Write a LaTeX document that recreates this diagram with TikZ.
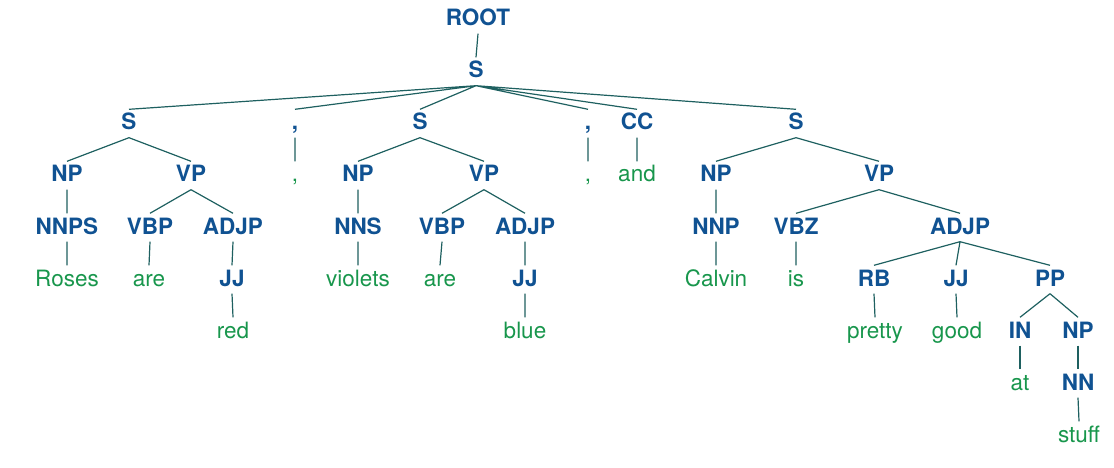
\documentclass[tikz,border=0pt]{standalone}
\usepackage{fontspec}
\setmainfont{TeX Gyre Heros}
\definecolor{tagblue}{RGB}{16,82,146}
\definecolor{wordgreen}{RGB}{24,150,76}
\definecolor{edgeteal}{RGB}{30,96,96}

\begin{document}
\begin{tikzpicture}[x=1pt,y=-1pt,
  tag/.style={anchor=base, inner sep=0pt, text height=20.5pt, text depth=7.5pt,
    text=tagblue, font=\fontsize{22.5}{26}\selectfont\bfseries},
  word/.style={tag, text=wordgreen, font=\fontsize{22.5}{26}\selectfont},
  edge/.style={draw=edgeteal, line width=1.2pt}]
\useasboundingbox (0,0) rectangle (1114,468);

\node[tag] (root) at (478,26) {ROOT};
\node[tag] (s) at (476,78) {S};

\node[tag] (sA) at (129,130) {S};
\node[tag] (cmA) at (295,130) {,};
\node[tag] (sB) at (420,130) {S};
\node[tag] (cmB) at (588,130) {,};
\node[tag] (cc) at (637,130) {CC};
\node[tag] (sC) at (796,130) {S};

\node[tag] (npA) at (67,182) {NP};
\node[tag] (vpA) at (191,182) {VP};
\node[word] (wcmA) at (295,182) {,};
\node[tag] (npB) at (358,182) {NP};
\node[tag] (vpB) at (484,182) {VP};
\node[word] (wcmB) at (588,182) {,};
\node[word] (and) at (637,182) {and};
\node[tag] (npC) at (716,182) {NP};
\node[tag] (vpC) at (879,182) {VP};

\node[tag] (nnps) at (67,234) {NNPS};
\node[tag] (vbpA) at (150,234) {VBP};
\node[tag] (adjpA) at (233,234) {ADJP};
\node[tag] (nns) at (358,234) {NNS};
\node[tag] (vbpB) at (442,234) {VBP};
\node[tag] (adjpB) at (525,234) {ADJP};
\node[tag] (nnp) at (716,234) {NNP};
\node[tag] (vbz) at (796,234) {VBZ};
\node[tag] (adjpC) at (960,234) {ADJP};

\node[word] (roses) at (67,286) {Roses};
\node[word] (areA) at (149,286) {are};
\node[tag] (jjA) at (232,286) {JJ};
\node[word] (violets) at (358,286) {violets};
\node[word] (areB) at (440,286) {are};
\node[tag] (jjB) at (525,286) {JJ};
\node[word] (calvin) at (716,286) {Calvin};
\node[word] (is) at (796,286) {is};
\node[tag] (rb) at (874,286) {RB};
\node[tag] (jjC) at (956,286) {JJ};
\node[tag] (pp) at (1050,286) {PP};

\node[word] (red) at (233,338) {red};
\node[word] (blue) at (525,338) {blue};
\node[word] (pretty) at (875,338) {pretty};
\node[word] (good) at (957,338) {good};
\node[tag] (in) at (1020,338) {IN};
\node[tag] (npD) at (1078,338) {NP};

\node[word] (at) at (1020,390) {at};
\node[tag] (nn) at (1078,390) {NN};

\node[word] (stuff) at (1079,442) {stuff};

\draw[edge] (root.south) -- (s.north);
\draw[edge] (s.south) -- (sA.north) (s.south) -- (cmA.north) (s.south) -- (sB.north)
  (s.south) -- (cmB.north) (s.south) -- (cc.north) (s.south) -- (sC.north);
\draw[edge] (sA.south) -- (npA.north) (sA.south) -- (vpA.north)
  (cmA.south) -- (wcmA.north)
  (sB.south) -- (npB.north) (sB.south) -- (vpB.north)
  (cmB.south) -- (wcmB.north)
  (cc.south) -- (and.north)
  (sC.south) -- (npC.north) (sC.south) -- (vpC.north);
\draw[edge] (npA.south) -- (nnps.north) (vpA.south) -- (vbpA.north) (vpA.south) -- (adjpA.north)
  (npB.south) -- (nns.north) (vpB.south) -- (vbpB.north) (vpB.south) -- (adjpB.north)
  (npC.south) -- (nnp.north) (vpC.south) -- (vbz.north) (vpC.south) -- (adjpC.north);
\draw[edge] (nnps.south) -- (roses.north) (vbpA.south) -- (areA.north) (adjpA.south) -- (jjA.north)
  (nns.south) -- (violets.north) (vbpB.south) -- (areB.north) (adjpB.south) -- (jjB.north)
  (nnp.south) -- (calvin.north) (vbz.south) -- (is.north)
  (adjpC.south) -- (rb.north) (adjpC.south) -- (jjC.north) (adjpC.south) -- (pp.north);
\draw[edge] (jjA.south) -- (red.north) (jjB.south) -- (blue.north)
  (rb.south) -- (pretty.north) (jjC.south) -- (good.north)
  (pp.south) -- (in.north) (pp.south) -- (npD.north);
\draw[edge] (in.south) -- (at.north) (npD.south) -- (nn.north);
\draw[edge] (nn.south) -- (stuff.north);
\end{tikzpicture}
\end{document}
